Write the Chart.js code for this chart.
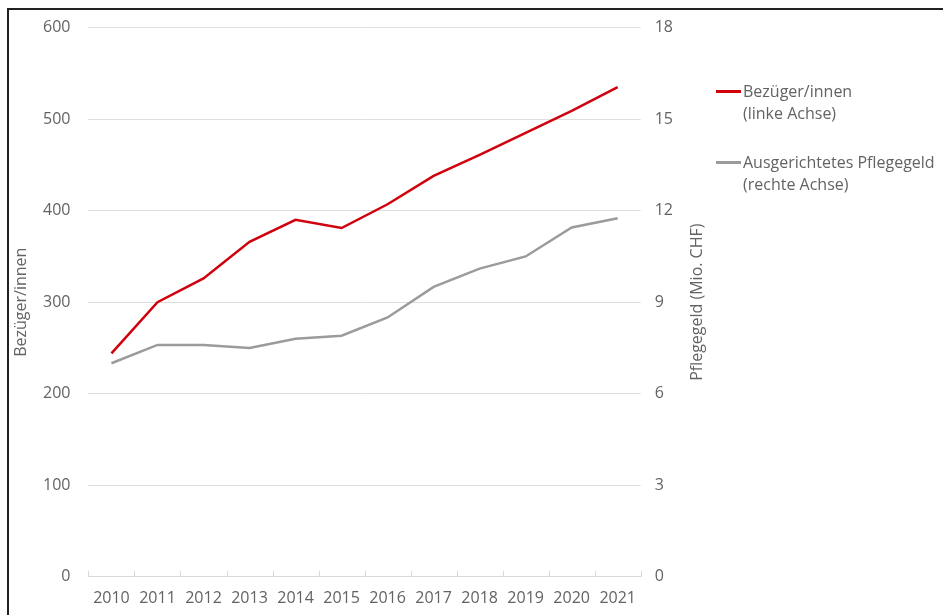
<!DOCTYPE html>
<html>
<head>
<meta charset="utf-8">
<script src="https://cdn.jsdelivr.net/npm/chart.js@4"></script>
<style>
  body { margin: 0; background: #fff; font-family: "Open Sans", sans-serif; }
  #wrap { position: relative; width: 943px; height: 615px; overflow: hidden; }
  #frame { position: absolute; left: 7px; top: 8px; width: 1000px; height: 700px; border-left: 2px solid #222; border-top: 2px solid #222; }
  canvas { position: absolute; left: 0; top: 0; }
  #legend { position: absolute; left: 716px; top: 80px; font-size: 16px; color: #636363; line-height: 22px; }
  .item { display: flex; align-items: flex-start; margin-bottom: 27px; }
  .swatch { width: 25px; height: 3px; margin-top: 10px; margin-right: 2px; }
</style>
</head>
<body>
<div id="wrap">
  <canvas id="myChart" width="943" height="615"></canvas>
  <div id="frame"></div>
  <div id="legend"></div>
</div>
<script>
// data
var years = ['2010','2011','2012','2013','2014','2015','2016','2017','2018','2019','2020','2021'];
var bezueger = [244, 300, 326, 366, 390, 381, 407, 438, 461, 485, 509, 535];
var pflegegeld = [7.0, 7.6, 7.6, 7.5, 7.8, 7.9, 8.5, 9.5, 10.1, 10.5, 11.45, 11.75];
var legendText = [['Bezüger/innen', '(linke Achse)'], ['Ausgerichtetes Pflegegeld', '(rechte Achse)']];
var leftTitle = 'Bezüger/innen';
var rightTitle = 'Pflegegeld (Mio. CHF)';

var red = '#d0000c';
var grey = '#9b9b9b';
var txt = '#636363';

Chart.defaults.font.family = '"Open Sans", sans-serif';
Chart.defaults.font.size = 16;
Chart.defaults.color = txt;

// small tick marks between categories, pointing up from the axis line
// plus both axis titles, read bottom to top
var extras = {
  id: 'extras',
  afterDraw: function(chart){
    var x = chart.scales.x;
    var ctx = chart.ctx;
    var area = chart.chartArea;
    var half = (x.getPixelForValue(1) - x.getPixelForValue(0)) / 2;
    ctx.save();
    ctx.strokeStyle = '#d9d9d9';
    ctx.lineWidth = 1;
    for (var i = 0; i <= years.length; i++) {
      var px = Math.round(x.getPixelForValue(i) - half) + 0.5;
      ctx.beginPath();
      ctx.moveTo(px, x.top);
      ctx.lineTo(px, x.top - 6);
      ctx.stroke();
    }
    var mid = (area.top + area.bottom) / 2;
    ctx.fillStyle = txt;
    ctx.font = '16px "Open Sans", sans-serif';
    ctx.textAlign = 'center';
    ctx.textBaseline = 'middle';
    [[area.left - 67, leftTitle], [area.right + 57, rightTitle]].forEach(function(t){
      ctx.save();
      ctx.translate(t[0], mid);
      ctx.rotate(-Math.PI / 2);
      ctx.fillText(t[1], 0, 0);
      ctx.restore();
    });
    ctx.restore();
  }
};

var ctxDir = document.getElementById('myChart');
var lineChart = new Chart(ctxDir, {
  type: 'line',
  data: {
    labels: years,
    datasets: [{
      label: legendText[0].join(' '),
      data: bezueger,
      borderColor: red,
      borderWidth: 2.5,
      pointRadius: 0,
      yAxisID: 'y'
    }, {
      label: legendText[1].join(' '),
      data: pflegegeld,
      borderColor: grey,
      borderWidth: 2.5,
      pointRadius: 0,
      yAxisID: 'y2'
    }]
  },
  options: {
    responsive: false,
    animation: false,
    layout: { padding: { left: 25, right: 256, top: 8, bottom: -5 } },
    plugins: { legend: { display: false }, tooltip: { enabled: false } },
    scales: {
      x: {
        offset: true,
        grid: { offset: true, drawOnChartArea: false, drawTicks: false },
        border: { color: '#d9d9d9', width: 1 },
        ticks: { padding: 12, maxRotation: 0, autoSkip: false }
      },
      y: {
        position: 'left',
        min: 0, max: 600,
        ticks: { stepSize: 100, padding: 18 },
        grid: { color: '#dedede', drawTicks: false },
        border: { display: false }
      },
      y2: {
        position: 'right',
        min: 0, max: 18,
        ticks: { stepSize: 3, padding: 14 },
        grid: { drawOnChartArea: false, drawTicks: false },
        border: { display: false }
      }
    }
  },
  plugins: [extras]
});

// html legend built from the datasets
var leg = document.getElementById('legend');
lineChart.data.datasets.forEach(function(ds, i){
  var item = document.createElement('div');
  item.className = 'item';
  var sw = document.createElement('div');
  sw.className = 'swatch';
  sw.style.background = ds.borderColor;
  var t = document.createElement('div');
  t.innerHTML = legendText[i].join('<br>');
  item.appendChild(sw);
  item.appendChild(t);
  leg.appendChild(item);
});
</script>
</body>
</html>
